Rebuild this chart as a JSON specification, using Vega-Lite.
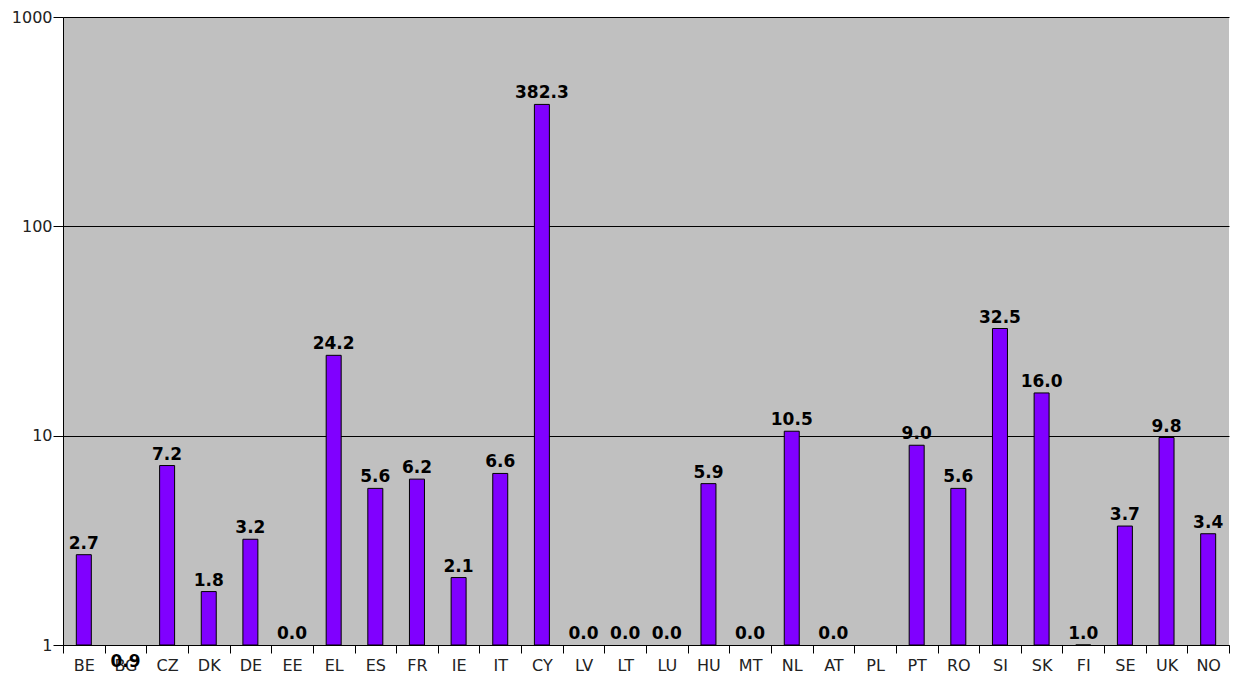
{
  "$schema": "https://vega.github.io/schema/vega-lite/v6.json",
  "width": 1166,
  "height": 628,
  "autosize": {"type": "none"},
  "padding": {"left": 63, "top": 17, "right": 13, "bottom": 32},
  "background": "white",
  "config": {
    "view": {"fill": "#C0C0C0", "stroke": null},
    "font": "DejaVu Sans",
    "mark": {"invalid": "show"}
  },
  "data": {
    "values": [
      {"country": "BE", "value": 2.7},
      {"country": "BG", "value": 0.9},
      {"country": "CZ", "value": 7.2},
      {"country": "DK", "value": 1.8},
      {"country": "DE", "value": 3.2},
      {"country": "EE", "value": 0.0},
      {"country": "EL", "value": 24.2},
      {"country": "ES", "value": 5.6},
      {"country": "FR", "value": 6.2},
      {"country": "IE", "value": 2.1},
      {"country": "IT", "value": 6.6},
      {"country": "CY", "value": 382.3},
      {"country": "LV", "value": 0.0},
      {"country": "LT", "value": 0.0},
      {"country": "LU", "value": 0.0},
      {"country": "HU", "value": 5.9},
      {"country": "MT", "value": 0.0},
      {"country": "NL", "value": 10.5},
      {"country": "AT", "value": 0.0},
      {"country": "PL", "value": null},
      {"country": "PT", "value": 9.0},
      {"country": "RO", "value": 5.6},
      {"country": "SI", "value": 32.5},
      {"country": "SK", "value": 16.0},
      {"country": "FI", "value": 1.0},
      {"country": "SE", "value": 3.7},
      {"country": "UK", "value": 9.8},
      {"country": "NO", "value": 3.4}
    ]
  },
  "encoding": {
    "x": {
      "field": "country",
      "type": "nominal",
      "sort": null,
      "scale": {
        "domain": ["BE", "BG", "CZ", "DK", "DE", "EE", "EL", "ES", "FR", "IE", "IT", "CY", "LV", "LT", "LU", "HU", "MT", "NL", "AT", "PL", "PT", "RO", "SI", "SK", "FI", "SE", "UK", "NO"],
        "paddingInner": 0,
        "paddingOuter": 0
      },
      "axis": {
        "title": null,
        "labelAngle": 0,
        "tickBand": "extent",
        "tickSize": 8,
        "tickColor": "black",
        "domainColor": "black",
        "labelFontSize": 16,
        "labelColor": "#222",
        "labelPadding": 4
      }
    },
    "y": {
      "field": "value",
      "type": "quantitative",
      "scale": {"type": "log", "domain": [1, 1000], "clamp": true},
      "axis": {
        "title": null,
        "values": [1, 10, 100, 1000],
        "format": "d",
        "grid": true,
        "gridColor": "black",
        "gridOpacity": 1,
        "gridWidth": 1,
        "tickSize": 10,
        "tickColor": "black",
        "domainColor": "black",
        "labelFontSize": 16,
        "labelColor": "#222",
        "labelPadding": 1
      }
    }
  },
  "layer": [
    {
      "transform": [{"filter": "datum.value >= 1"}],
      "mark": {"type": "bar", "color": "#8000FF", "stroke": "black", "strokeWidth": 1, "width": {"band": 0.36}}
    },
    {
      "transform": [{"filter": "datum.value != null && (datum.value >= 1 || datum.value == 0)"}],
      "mark": {"type": "text", "baseline": "bottom", "dy": -2, "fontWeight": "bold", "fontSize": 17, "color": "black"},
      "encoding": {"text": {"field": "value", "type": "quantitative", "format": ".1f"}}
    },
    {
      "transform": [{"filter": "datum.value != null && datum.value > 0 && datum.value < 1"}],
      "mark": {"type": "text", "baseline": "top", "dy": 9, "fontWeight": "bold", "fontSize": 17, "color": "black"},
      "encoding": {"text": {"field": "value", "type": "quantitative", "format": ".1f"}}
    }
  ]
}
